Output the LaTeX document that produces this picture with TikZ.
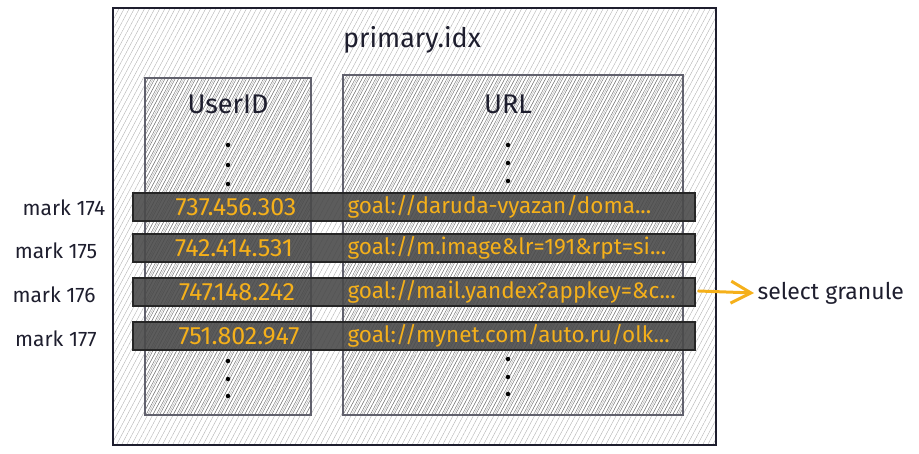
\documentclass[tikz,border=0pt]{standalone}
\usepackage{fontspec}
\setmainfont{Fira Sans}
\usetikzlibrary{patterns.meta,arrows.meta}
\definecolor{ink}{HTML}{1E1E2E}
\definecolor{gold}{HTML}{F5B01A}
\definecolor{bar}{HTML}{4A4A4A}
\tikzset{
  outerbox/.style={draw=ink,line width=1.1pt,pattern={Lines[angle=62,distance=4.5pt,line width=0.4pt]},pattern color=black!30},
  colbox/.style={draw=ink!70,line width=1.1pt,pattern={Lines[angle=62,distance=3pt,line width=0.45pt]},pattern color=black!55},
  rowbar/.style={draw=black!85,line width=1.3pt,fill=bar,fill opacity=0.9,minimum width=562pt,minimum height=28pt,inner sep=0pt},
  numtxt/.style={text=gold,font=\fontsize{25}{26}\selectfont,anchor=center},
  urltxt/.style={text=gold,font=\fontsize{22.5}{24}\selectfont,anchor=west},
  marktxt/.style={text=ink,font=\fontsize{21}{22}\selectfont,anchor=center},
  seltxt/.style={text=ink,font=\fontsize{23}{24}\selectfont,anchor=west},
  headtxt/.style={text=ink,font=\fontsize{27}{28}\selectfont},
  dot/.style={circle,fill=black,inner sep=0pt,minimum size=4.5pt},
}
\begin{document}
\begin{tikzpicture}[x=1pt,y=-1pt]
\useasboundingbox (0,0) rectangle (919,453);
\path[outerbox] (113,8) rectangle (716,445);
\node[headtxt] (title) at (412,40) {primary.idx};
\path[colbox] (145,78) rectangle (311,415);
\path[colbox] (343,75) rectangle (683,415);
\node[headtxt] (uid) at (228,104) {UserID};
\node[headtxt] (url) at (508,104) {URL};
\foreach \y [count=\i] in {145,165,184,361,379,396}{\node[dot] (ud\i) at (228,\y) {};}
\foreach \y [count=\i] in {145,163,181,359,377,394}{\node[dot] (rd\i) at (508,\y) {};}
\node[rowbar] (r1) at (414,207) {};
\node[rowbar] (r2) at (414,248) {};
\node[rowbar] (r3) at (414,292) {};
\node[rowbar] (r4) at (414,336) {};
\node[numtxt] (n1) at (236,207) {737.456.303};
\node[numtxt] (n2) at (234,248) {742.414.531};
\node[numtxt] (n3) at (237,292) {747.148.242};
\node[numtxt] (n4) at (239,336) {751.802.947};
\node[urltxt] (u1) at (344,207) {goal://daruda-vyazan/doma...};
\node[urltxt] (u2) at (344,248) {goal://m.image\&lr=191\&rpt=si...};
\node[urltxt] (u3) at (344,292) {goal://mail.yandex?appkey=\&c...};
\node[urltxt] (u4) at (344,336) {goal://mynet.com/auto.ru/olk...};
\node[marktxt] (m1) at (64,208) {mark 174};
\node[marktxt] (m2) at (56,251) {mark 175};
\node[marktxt] (m3) at (54,295) {mark 176};
\node[marktxt] (m4) at (56,339) {mark 177};
\node[seltxt] (sel) at (754,293) {select granule};
\draw[gold,line width=3pt,line cap=round,-{Straight Barb[length=20pt,width=22pt,line width=3pt]}] (r3.east) ++(3pt,1pt) coordinate (as) (as) -- (sel.west);
\end{tikzpicture}
\end{document}
